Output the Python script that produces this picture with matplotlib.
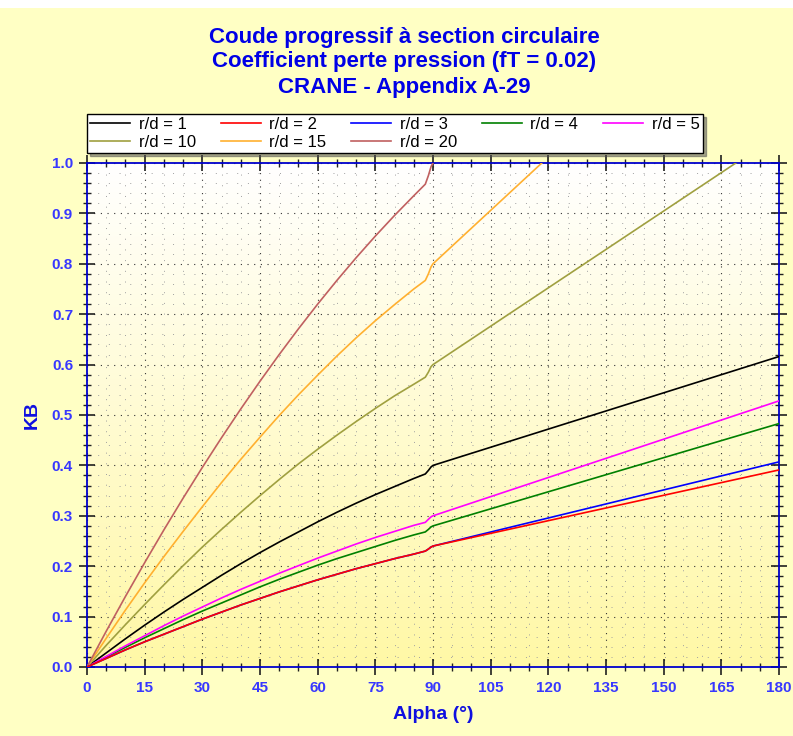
import numpy as np
import matplotlib
matplotlib.use("Agg")
import matplotlib.pyplot as plt
from matplotlib.colors import LinearSegmentedColormap
from matplotlib.ticker import MultipleLocator, FormatStrFormatter
from matplotlib.patches import Rectangle

plt.rcParams['font.family'] = ['Liberation Sans', 'DejaVu Sans']

# angle values (deg)
alpha = [0, 5, 10, 15, 20, 25, 30, 35, 40, 45, 50, 55, 60, 65, 70, 75, 80, 85,
         88, 88.8, 89.5, 90, 180]

kb_rd1 = [0, 0.028, 0.056, 0.083, 0.109, 0.134, 0.158, 0.182, 0.205, 0.227, 0.248, 0.268,
          0.288, 0.307, 0.325, 0.342, 0.358, 0.374, 0.383, 0.390, 0.397, 0.400, 0.616]
kb_rd2 = [0, 0.017, 0.034, 0.050, 0.065, 0.080, 0.095, 0.109, 0.123, 0.136, 0.149, 0.161,
          0.173, 0.184, 0.195, 0.205, 0.215, 0.224, 0.230, 0.234, 0.238, 0.240, 0.391]
kb_rd3 = [0, 0.017, 0.034, 0.050, 0.065, 0.080, 0.095, 0.109, 0.123, 0.136, 0.149, 0.161,
          0.173, 0.184, 0.195, 0.205, 0.215, 0.224, 0.230, 0.234, 0.238, 0.240, 0.407]
kb_rd4 = [0, 0.020, 0.039, 0.058, 0.076, 0.094, 0.111, 0.127, 0.143, 0.159, 0.174, 0.188,
          0.202, 0.215, 0.227, 0.239, 0.251, 0.262, 0.268, 0.273, 0.278, 0.280, 0.483]
kb_rd5 = [0, 0.021, 0.042, 0.062, 0.082, 0.101, 0.119, 0.137, 0.154, 0.170, 0.186, 0.201,
          0.216, 0.230, 0.244, 0.257, 0.269, 0.281, 0.287, 0.293, 0.298, 0.300, 0.528]
kb_rd10 = [0, 0.043, 0.084, 0.124, 0.163, 0.201, 0.238, 0.273, 0.307, 0.340, 0.372, 0.403,
           0.432, 0.460, 0.487, 0.513, 0.538, 0.561, 0.575, 0.585, 0.596, 0.600, 1.057]
kb_rd15 = [0, 0.057, 0.113, 0.167, 0.219, 0.269, 0.318, 0.366, 0.412, 0.456, 0.499, 0.540,
           0.579, 0.617, 0.653, 0.687, 0.719, 0.750, 0.767, 0.780, 0.794, 0.800, 1.436]
kb_rd20 = [0, 0.071, 0.140, 0.207, 0.272, 0.335, 0.396, 0.455, 0.512, 0.567, 0.620, 0.671,
           0.720, 0.767, 0.812, 0.855, 0.896, 0.935, 0.958, 0.975, 0.993, 1.000, 1.814]

labels = ['r/d = 1', 'r/d = 2', 'r/d = 3', 'r/d = 4', 'r/d = 5', 'r/d = 10', 'r/d = 15', 'r/d = 20']
series = [kb_rd1, kb_rd2, kb_rd3, kb_rd4, kb_rd5, kb_rd10, kb_rd15, kb_rd20]
colors = ['#000000', '#FF0000', '#0000FF', '#008000', '#FF00FF', '#A0A040', '#FFB030', '#C06060']
zorders = [3, 3.2, 3.1, 3, 3, 3, 3, 3]

W, H = 793, 736
fig = plt.figure(figsize=(W / 100, H / 100), dpi=100, facecolor='white')
fig.patches.append(Rectangle((0, 0), 1, 1 - 8 / H, transform=fig.transFigure,
                             facecolor='#FFFFC4', edgecolor='none', zorder=-10))

ax = fig.add_axes([87 / W, 1 - 667 / H, (779 - 87) / W, (667 - 163) / H])

# background gradient of the plot area
cmap = LinearSegmentedColormap.from_list('bg', ['#FFFFFF', '#FFF8A6'])
ax.imshow(np.linspace(0, 1, 256).reshape(-1, 1), cmap=cmap, aspect='auto',
          extent=[0, 1, 0, 1], transform=ax.transAxes, zorder=0)

lines = []
for ys, lab, c, z in zip(series, labels, colors, zorders):
    ln, = ax.plot(alpha, ys, color=c, lw=1.2, label=lab, zorder=z)
    lines.append(ln)

ax.set_xlim(0, 180)
ax.set_ylim(0, 1.0)
ax.xaxis.set_major_locator(MultipleLocator(15))
ax.xaxis.set_minor_locator(MultipleLocator(5))
ax.yaxis.set_major_locator(MultipleLocator(0.1))
ax.yaxis.set_minor_locator(MultipleLocator(0.02))
ax.yaxis.set_major_formatter(FormatStrFormatter('%.1f'))

ax.set_axisbelow(True)
ax.grid(which='major', color='#333333', lw=0.8, linestyle=(0, (1, 5)))
ax.grid(which='minor', color='#A0A0A0', lw=0.7, linestyle=(0, (1, 10)))

for s in ax.spines.values():
    s.set_color('#0000CC')
    s.set_linewidth(1.3)

ax.tick_params(which='major', direction='inout', length=12, width=1.2, color='#202020',
               top=True, right=True, labelsize=11, labelcolor='#3838FF', pad=4)
ax.tick_params(which='minor', direction='inout', length=6, width=1.0, color='#202020',
               top=True, right=True)
for t in ax.get_xticklabels() + ax.get_yticklabels():
    t.set_fontweight('bold')

ax.set_xlabel('Alpha (°)', fontsize=14, fontweight='bold', color='#1010E0', labelpad=8)
ax.set_ylabel('KB', fontsize=14, fontweight='bold', color='#1010E0', labelpad=8)

title_lines = ['Coude progressif à section circulaire',
               'Coefficient perte pression (fT = 0.02)',
               'CRANE - Appendix A-29']
for txt, ypx in zip(title_lines, [37, 62, 87]):
    fig.text(0.51, 1 - ypx / H, txt, ha='center', va='center',
             fontsize=16, fontweight='bold', color='#0000E6')

# legend filled column by column, so reorder to read row by row
order = [0, 5, 1, 6, 2, 7, 3, 4]
leg = fig.legend([lines[i] for i in order], [labels[i] for i in order],
                 loc='upper left', ncol=5, mode='expand', borderaxespad=0,
                 bbox_to_anchor=(87 / W, 1 - 154 / H, (703 - 87) / W, 40 / H),
                 fontsize=12, handlelength=2.4, handletextpad=0.5, columnspacing=1.0,
                 labelspacing=0.15, borderpad=0.2, fancybox=False, framealpha=1,
                 edgecolor='black', facecolor='white', shadow=True)
leg.get_frame().set_linewidth(1.0)

fig.savefig('out.png', dpi=100, facecolor=fig.get_facecolor())
